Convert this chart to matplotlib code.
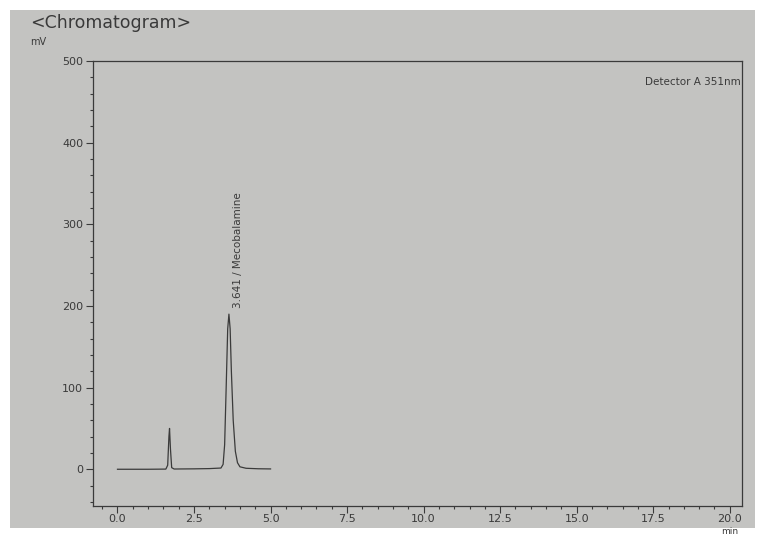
import matplotlib
matplotlib.use('Agg')
import matplotlib.pyplot as plt
from matplotlib.patches import Rectangle
from matplotlib.ticker import MultipleLocator

# trace (min, mV)
tiempo = [0.0, 1.0, 1.58, 1.64, 1.68, 1.70, 1.73, 1.77, 1.85, 2.5, 3.0, 3.38, 3.45, 3.50,
          3.55, 3.60, 3.64, 3.68, 3.72, 3.78, 3.85, 3.92, 4.00, 4.20, 4.60, 5.0]
senal = [0.0, 0.0, 0.2, 5.0, 40.0, 50.0, 25.0, 2.0, 0.3, 0.5, 0.8, 1.5, 6.0, 30.0,
         100.0, 172.0, 190.0, 172.0, 120.0, 60.0, 22.0, 8.0, 3.0, 1.2, 0.6, 0.4]

pico_t = 3.641
pico_nombre = '3.641 / Mecobalamine'
x_ticks = [0.0, 2.5, 5.0, 7.5, 10.0, 12.5, 15.0, 17.5, 20.0]
y_ticks = [0, 100, 200, 300, 400, 500]

gris = '#c3c3c1'
tinta = '#3a3a3a'

fig = plt.figure(figsize=(7.65, 5.4), dpi=100)
fig.patch.set_facecolor('white')
fig.add_artist(Rectangle((10/765, 12/540), 745/765, 518/540, transform=fig.transFigure,
                         facecolor=gris, edgecolor='none', zorder=0))

ax = fig.add_axes([93/765, 1-506/540, 649/765, (506-61)/540])
ax.set_facecolor(gris)
ax.plot(tiempo, senal, color=tinta, lw=0.9)
ax.set_xlim(-0.8, 20.4)
ax.set_ylim(-45, 500)
ax.set_xticks(x_ticks)
ax.set_xticklabels(['%.1f' % v for v in x_ticks])
ax.set_yticks(y_ticks)
ax.xaxis.set_minor_locator(MultipleLocator(0.5))
ax.yaxis.set_minor_locator(MultipleLocator(20))
ax.tick_params(which='both', colors=tinta, labelsize=8, width=0.8, pad=2)
ax.tick_params(axis='x', pad=1)
ax.tick_params(which='major', length=5)
ax.tick_params(which='minor', length=2.5)
for s in ax.spines.values():
    s.set_color(tinta)
    s.set_linewidth(0.9)

ax.text(pico_t + 0.12, 198, pico_nombre, rotation=90, fontsize=7.5, color=tinta,
        ha='left', va='bottom')
ax.text(0.998, 0.965, 'Detector A 351nm', transform=ax.transAxes, fontsize=7.5,
        color=tinta, ha='right', va='top')

fig.text(30/765, 1-23/540, '<Chromatogram>', fontsize=12.5, fontweight='medium',
         color=tinta, ha='left', va='center')
fig.text(30/765, 1-42/540, 'mV', fontsize=7, color=tinta, ha='left', va='center')
fig.text(730/765, 1-532/540, 'min', fontsize=6.5, color=tinta, ha='center', va='center')

fig.savefig('out.png', dpi=100)
